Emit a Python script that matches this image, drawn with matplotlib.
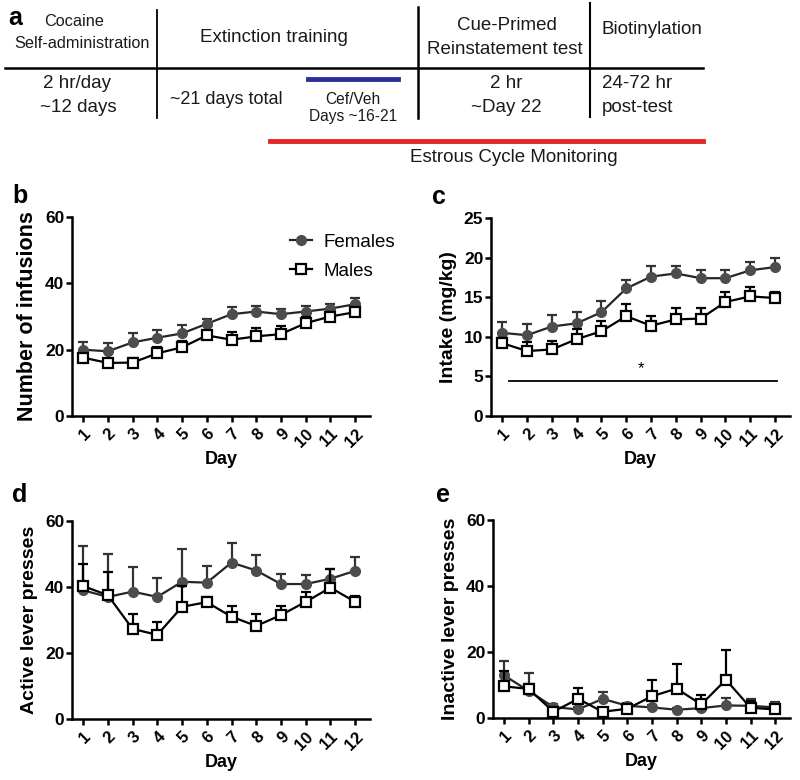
import numpy as np
import matplotlib
matplotlib.use('Agg')
import matplotlib.pyplot as plt
from matplotlib.lines import Line2D

# +------+
# | Data |
# +------+
days = list(range(1, 13))

# b: number of infusions
inf_f = [20.0, 19.5, 22.2, 23.6, 24.9, 27.8, 30.7, 31.5, 30.7, 31.5, 32.4, 33.7]
inf_f_err = [2.3, 2.6, 2.7, 2.3, 2.6, 1.5, 2.1, 1.6, 1.6, 1.8, 1.5, 1.8]
inf_m = [17.6, 16.0, 16.1, 18.9, 20.7, 24.3, 23.0, 24.0, 24.7, 28.0, 30.0, 31.3]
inf_m_err = [1.0, 1.0, 1.5, 2.0, 1.8, 1.4, 2.2, 2.5, 2.4, 1.8, 1.3, 1.4]

# c: intake (mg/kg)
int_f = [10.5, 10.2, 11.3, 11.7, 13.1, 16.1, 17.6, 18.0, 17.4, 17.4, 18.4, 18.8]
int_f_err = [1.4, 1.4, 1.4, 1.4, 1.4, 1.1, 1.4, 1.0, 1.0, 1.0, 1.0, 1.2]
int_m = [9.2, 8.2, 8.4, 9.7, 10.7, 12.6, 11.4, 12.2, 12.3, 14.4, 15.1, 14.9]
int_m_err = [0.6, 1.1, 1.1, 1.3, 1.3, 1.6, 1.2, 1.4, 1.3, 1.2, 1.2, 0.8]

# d: active lever presses
act_f = [39.0, 37.0, 38.6, 37.0, 41.6, 41.3, 47.4, 45.0, 40.9, 40.9, 42.5, 44.9]
act_f_err = [13.4, 13.1, 7.4, 5.8, 9.8, 5.2, 5.8, 4.6, 2.9, 2.7, 3.1, 4.1]
act_m = [40.3, 37.5, 27.3, 25.5, 34.0, 35.4, 31.0, 28.2, 31.5, 35.5, 39.8, 35.5]
act_m_err = [6.8, 6.9, 4.6, 3.8, 6.3, 1.5, 3.1, 3.5, 2.8, 3.0, 5.6, 1.8]

# e: inactive lever presses
ina_f = [12.9, 8.2, 3.3, 2.6, 5.8, 3.7, 3.2, 2.5, 3.0, 3.8, 3.7, 3.2]
ina_f_err = [4.4, 5.3, 1.0, 0.8, 2.0, 0.8, 0.8, 0.6, 1.0, 2.2, 2.0, 1.6]
ina_m = [9.6, 8.8, 1.9, 5.8, 1.9, 2.8, 6.6, 8.9, 4.1, 11.6, 3.1, 2.6]
ina_m_err = [4.7, 1.5, 1.2, 3.3, 0.5, 0.8, 5.0, 7.5, 3.0, 8.9, 2.0, 1.4]

# +-------------+
# | Figure look |
# +-------------+
plt.rcParams.update({'font.family': ['Liberation Sans', 'DejaVu Sans'],
                     'font.size': 12,
                     'axes.linewidth': 1.8,
                     'xtick.major.width': 1.8,
                     'ytick.major.width': 1.8,
                     'xtick.major.size': 4.5,
                     'ytick.major.size': 4.5})

W, H = 800, 780
fig = plt.figure(figsize=(W / 100, H / 100), dpi=100)


def px_axes(left, top, right, bottom):
    # axes box given in pixel coordinates from the top-left corner
    return fig.add_axes([left / W, 1 - bottom / H, (right - left) / W, (bottom - top) / H])


# +---------------------+
# | Panel a: time line  |
# +---------------------+
ax_a = fig.add_axes([0, 1 - 175 / H, 1, 175 / H])
ax_a.set_xlim(0, W)
ax_a.set_ylim(175, 0)
ax_a.axis('off')
ax_a.plot([5, 703], [68, 68], color='black', lw=1.8)
ax_a.plot([157, 157], [10, 118], color='black', lw=1.3)
ax_a.plot([418, 418], [7, 118], color='black', lw=1.8)
ax_a.plot([590, 590], [3, 117], color='black', lw=1.5)
ax_a.plot([308, 398], [79, 79], color='#2e2e9a', lw=3.5)
ax_a.plot([270, 703], [141, 141], color='#e02828', lw=3.5)
ax_a.text(8, 18, 'a', fontsize=18, fontweight='bold', va='center')
txt = dict(fontsize=13.5, ha='center', va='center', color='#1a1a1a')
ax_a.text(74, 22, 'Cocaine', **dict(txt, fontsize=11.7))
ax_a.text(82, 43, 'Self-administration', **dict(txt, fontsize=11.7))
ax_a.text(274, 37, 'Extinction training', **txt)
ax_a.text(507, 26, 'Cue-Primed', **txt)
ax_a.text(505, 49, 'Reinstatement test', **txt)
ax_a.text(652, 30, 'Biotinylation', **txt)
ax_a.text(77, 83, '2 hr/day', **dict(txt, fontsize=13.5))
ax_a.text(78, 107, '~12 days', **dict(txt, fontsize=13.5))
ax_a.text(226, 100, '~21 days total', **dict(txt, fontsize=13))
ax_a.text(353, 99, 'Cef/Veh', **dict(txt, fontsize=11.2))
ax_a.text(353, 117, 'Days ~16-21', **dict(txt, fontsize=11.2))
ax_a.text(506, 83, '2 hr', **txt)
ax_a.text(506, 107, '~Day 22', **txt)
ax_a.text(602, 83, '24-72 hr', **dict(txt, ha='left'))
ax_a.text(602, 107, 'post-test', **dict(txt, ha='left'))
ax_a.text(514, 157, 'Estrous Cycle Monitoring', **txt)


# +-------------------+
# | Panels b, c, d, e |
# +-------------------+
fem_style = dict(color='#262626', lw=1.6, marker='o', markersize=7,
                 markerfacecolor='#4d4d4d', markeredgecolor='#4d4d4d')
male_style = dict(color='black', lw=1.6, marker='s', markersize=7.5,
                  markerfacecolor='white', markeredgecolor='black',
                  markeredgewidth=1.6)


def line_panel(ax, yf, yf_err, ym, ym_err, ymax, ystep, ylabel, ylsize=14):
    ax.errorbar(days, yf, yerr=[np.zeros(12), yf_err], ecolor='#333333',
                elinewidth=1.6, capsize=3.5, capthick=1.6, zorder=3,
                **fem_style)
    ax.errorbar(days, ym, yerr=[np.zeros(12), ym_err], ecolor='black',
                elinewidth=1.6, capsize=3.5, capthick=1.6, zorder=4,
                **male_style)
    ax.set_xlim(0.55, 12.6)
    ax.set_ylim(0, ymax)
    ax.set_yticks(np.arange(0, ymax + 1, ystep))
    ax.set_xticks(days)
    ax.set_xticklabels([str(d) for d in days], rotation=45, ha='right',
                       rotation_mode='anchor', fontweight='bold', fontsize=12)
    for lab in ax.get_yticklabels():
        lab.set_fontweight('bold')
        lab.set_fontsize(12.5)
    ax.tick_params(axis='y', pad=1)
    ax.tick_params(axis='x', pad=3)
    ax.spines['top'].set_visible(False)
    ax.spines['right'].set_visible(False)
    ax.set_xlabel('Day', fontsize=13, fontweight='bold', labelpad=1)
    ax.set_ylabel(ylabel, fontsize=ylsize, fontweight='bold', labelpad=5)


ax_b = px_axes(72, 217, 370, 416)
line_panel(ax_b, inf_f, inf_f_err, inf_m, inf_m_err, 60, 20,
           'Number of infusions', ylsize=15.5)
handles = [Line2D([], [], **fem_style), Line2D([], [], **male_style)]
ax_b.legend(handles, ['Females', 'Males'], loc='upper left',
            bbox_to_anchor=(0.73, 0.915), frameon=False, fontsize=13.5,
            handlelength=1.2, handletextpad=0.6, labelspacing=0.62,
            borderaxespad=0, borderpad=0)

ax_c = px_axes(491, 218, 790, 416)
line_panel(ax_c, int_f, int_f_err, int_m, int_m_err, 25, 5, 'Intake (mg/kg)')
ax_c.plot([1.28, 12.08], [4.45, 4.45], color='black', lw=1.3)
ax_c.text(6.58, 6.0, '*', ha='center', va='center', fontsize=12)

ax_d = px_axes(72, 521, 370, 719)
line_panel(ax_d, act_f, act_f_err, act_m, act_m_err, 60, 20, 'Active lever presses')

ax_e = px_axes(493, 520, 790, 718)
line_panel(ax_e, ina_f, ina_f_err, ina_m, ina_m_err, 60, 20, 'Inactive lever presses')

for letter, x, y in [('b', 12, 196), ('c', 432, 197), ('d', 12, 495), ('e', 436, 495)]:
    fig.text(x / W, 1 - y / H, letter, fontsize=18, fontweight='bold', va='center')

plt.savefig('out.png', dpi=100)
